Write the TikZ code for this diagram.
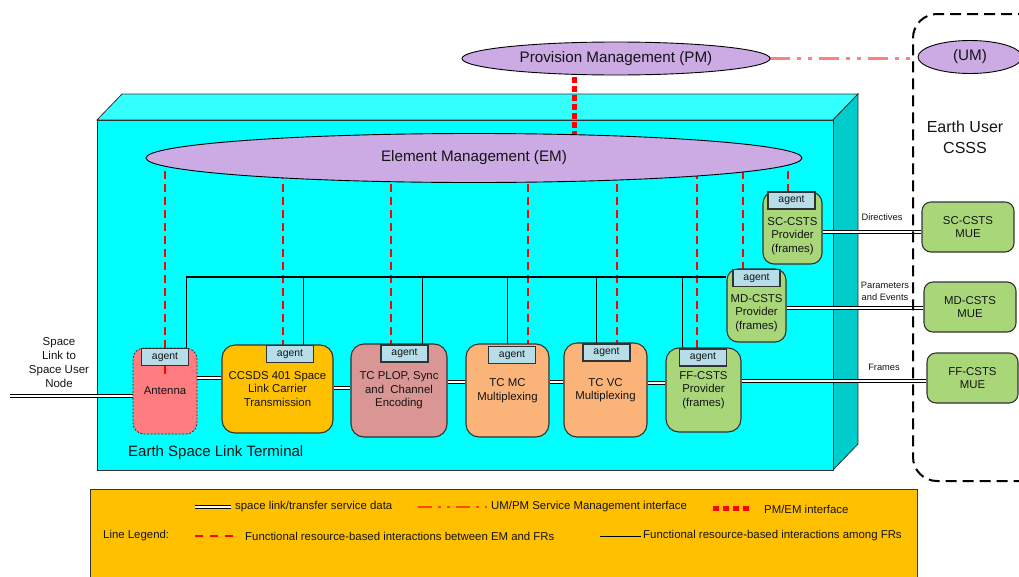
\documentclass[tikz,border=0pt]{standalone}
\usepackage{fontspec}
\setmainfont{Liberation Sans}
\usetikzlibrary{shapes.geometric}
\pgfdeclarelayer{bg}
\pgfdeclarelayer{ln}
\pgfsetlayers{bg,ln,main}
\definecolor{cyF}{RGB}{0,255,255}
\definecolor{cyT}{RGB}{51,255,255}
\definecolor{cyS}{RGB}{0,204,204}
\definecolor{lav}{RGB}{204,170,228}
\definecolor{antC}{RGB}{255,124,128}
\definecolor{ccC}{RGB}{255,192,0}
\definecolor{plopC}{RGB}{218,150,148}
\definecolor{peachC}{RGB}{250,180,122}
\definecolor{grnC}{RGB}{170,214,122}
\definecolor{agC}{RGB}{183,221,232}
\definecolor{legC}{RGB}{255,192,0}
\definecolor{salm}{RGB}{255,128,128}
\definecolor{umpmL}{RGB}{255,70,20}
\definecolor{frm}{RGB}{50,50,50}
\definecolor{txt}{RGB}{20,20,20}
\newcommand\myNodeFont{\fontsize{11.4}{13.5}\selectfont}
\newcommand\myLegFont{\fontsize{11.4}{13.5}\selectfont}
\tikzset{
  frbox/.style={draw=frm, line width=1.1pt, rounded corners=13pt, inner sep=0pt, align=center, font=\myNodeFont, text=txt},
  agentbox/.style={draw=frm, line width=1.1pt, fill=agC, minimum width=47pt, minimum height=17pt, inner sep=0pt, font=\fontsize{10.4}{12}\selectfont, text=txt},
  ell/.style={ellipse, draw=black, line width=0.9pt, fill=lav, inner sep=0pt, font=\fontsize{15.2}{18}\selectfont, text=txt},
  dbl/.style={draw=black, line width=1.4pt, double=white, double distance=1.7pt},
  fem/.style={draw=red, line width=1.7pt, dash pattern=on 8pt off 5pt},
  frl/.style={draw=black, line width=1pt},
  busl/.style={draw=black, line width=2pt},
  pmem/.style={draw=red, line width=5pt, dash pattern=on 6pt off 3pt},
  umpm/.style={draw=salm, line width=3.5pt, dash pattern=on 20pt off 7pt on 4pt off 7pt on 4pt off 7pt},
  lbl/.style={inner sep=0pt, align=center, text=txt},
  leg/.style={inner sep=0pt, anchor=west, font=\myLegFont, text=txt},
}
\begin{document}
\begin{tikzpicture}[x=1pt,y=-1pt]
\useasboundingbox (0,0) rectangle (1019,576);
\clip (0,0) rectangle (1019,576);

% ---------- background: cube and legend box
\begin{pgfonlayer}{bg}
  \filldraw[fill=cyT, draw=frm, line width=0.8pt] (97,120) -- (122,94) -- (858,94) -- (833,120) -- cycle;
  \filldraw[fill=cyS, draw=frm, line width=0.8pt] (833,120) -- (858,94) -- (858,444) -- (833,470) -- cycle;
  \filldraw[fill=cyF, draw=frm, line width=0.8pt] (97,120) rectangle (833,470);
  \filldraw[fill=legC, draw=frm, line width=0.8pt] (90,489) rectangle (917,600);
\end{pgfonlayer}

% ---------- ellipses
\node[ell, minimum width=308pt, minimum height=33pt] (PM) at (616,58.5) {Provision Management (PM)};
\node[ell, minimum width=656pt, minimum height=49pt] (EM) at (474,158) {Element Management (EM)};
\node[ell, minimum width=104pt, minimum height=33pt] (UM) at (970,57) {(UM)};

% ---------- user CSSS dashed box
\node[draw=black, line width=2pt, dash pattern=on 11pt off 6pt, rounded corners=24pt,
      minimum width=140pt, minimum height=467pt, inner sep=0pt] (CSSS) at (983,247.5) {};
\node[lbl, font=\fontsize{16}{21}\selectfont] (CSSSt) at (965,137) {Earth User\\CSSS};

% ---------- functional resources
\node[frbox, fill=antC, draw=frm, line width=0.8pt, dash pattern=on 2pt off 1.5pt, rounded corners=11pt,
      minimum width=64pt, minimum height=86pt] (Ant) at (165,391) {Antenna};
\node[frbox, fill=ccC, minimum width=111pt, minimum height=88pt] (CC) at (277.5,389) {CCSDS 401 Space\\Link Carrier\\Transmission};
\node[frbox, fill=plopC, minimum width=96pt, minimum height=93pt] (PLOP) at (399,390.5) {TC PLOP, Sync\\and~ Channel\\Encoding};
\node[frbox, fill=peachC, minimum width=83pt, minimum height=93pt] (MC) at (507.5,390.5) {TC MC\\Multiplexing};
\node[frbox, fill=peachC, minimum width=83pt, minimum height=94pt] (VC) at (605.5,390) {TC VC\\Multiplexing};
\node[frbox, fill=grnC, minimum width=75pt, minimum height=84pt] (FF) at (703.5,390) {FF-CSTS\\Provider\\(frames)};
\node[frbox, fill=grnC, rounded corners=11pt, minimum width=59pt, minimum height=73pt] (MD) at (756.5,305.5) {};
\node[lbl, font=\myNodeFont] (MDt) at (756.5,313) {MD-CSTS\\Provider\\(frames)};
\node[frbox, fill=grnC, rounded corners=11pt, minimum width=59pt, minimum height=72pt] (SC) at (792.5,228) {};
\node[lbl, font=\myNodeFont] (SCt) at (792.5,236) {SC-CSTS\\Provider\\(frames)};

% ---------- MUEs
\node[frbox, fill=grnC, rounded corners=9pt, minimum width=92pt, minimum height=50pt] (SCMUE) at (968,227) {SC-CSTS\\MUE};
\node[frbox, fill=grnC, rounded corners=9pt, minimum width=92pt, minimum height=50pt] (MDMUE) at (970,307) {MD-CSTS\\MUE};
\node[frbox, fill=grnC, rounded corners=9pt, minimum width=91pt, minimum height=50pt] (FFMUE) at (972.5,378) {FF-CSTS\\MUE};

% ---------- agents
\node[agentbox] (agAnt) at (165,357) {agent};
\node[agentbox] (agCC) at (290,354) {agent};
\node[agentbox] (agPLOP) at (404.5,353.5) {agent};
\node[agentbox] (agMC) at (512,355) {agent};
\node[agentbox] (agVC) at (606.5,352.5) {agent};
\node[agentbox] (agFF) at (703,357.5) {agent};
\node[agentbox] (agMD) at (756.5,278) {agent};
\node[agentbox] (agSC) at (791.5,200.5) {agent};

% ---------- labels
\node[lbl, anchor=west, font=\fontsize{15}{18}\selectfont] (ESLT) at (128,453) {Earth Space Link Terminal};
\node[lbl, font=\fontsize{11.5}{13.7}\selectfont] (SLt) at (59,362.5) {Space\\Link to\\Space User\\Node};
\node[lbl, font=\fontsize{9.3}{12}\selectfont] (dirT) at (882,217) {Directives};
\node[lbl, font=\fontsize{9.3}{12}\selectfont] (parT) at (885,291) {Parameters\\and Events};
\node[lbl, font=\fontsize{9.3}{12}\selectfont] (frT) at (884,367) {Frames};

% ---------- connectors
\coordinate (xAnt) at (165,0);
\coordinate (xCC) at (283,0);
\coordinate (xPLOP) at (391,0);
\coordinate (xMC) at (528,0);
\coordinate (xVC) at (617,0);
\coordinate (xFF) at (697,0);
\coordinate (xMD) at (743,0);
\coordinate (xSC) at (788,0);
\coordinate (xPE) at (574,0);
\coordinate (busL) at (186,277);
\coordinate (bCC) at (303,277);
\coordinate (bPLOP) at (422,277);
\coordinate (bMC) at (507,277);
\coordinate (bVC) at (596,277);
\coordinate (bFF) at (682,277);
\coordinate (slEnd) at (10,396);
\coordinate (y1) at (0,378);
\coordinate (y2) at (0,388);
\coordinate (y3) at (0,382);
\coordinate (y4) at (0,383);
\coordinate (y5) at (0,381);
\coordinate (yMD) at (0,308);
\coordinate (ySC) at (0,232);

\begin{pgfonlayer}{ln}
  \draw[pmem] (PM.center -| xPE) -- (EM.center -| xPE);
  \draw[umpm] (PM.east) -- (PM.east -| CSSS.west);
  \draw[fem] (EM.center -| xAnt) -- (agAnt.north -| xAnt);
  \draw[fem] (EM.center -| xCC) -- (agCC.north -| xCC);
  \draw[fem] (EM.center -| xPLOP) -- (agPLOP.north -| xPLOP);
  \draw[fem] (EM.center -| xMC) -- (agMC.north -| xMC);
  \draw[fem] (EM.center -| xVC) -- (agVC.north -| xVC);
  \draw[fem] (EM.center -| xFF) -- (agFF.north -| xFF);
  \draw[fem] (EM.center -| xMD) -- (agMD.north -| xMD);
  \draw[fem] (EM.center -| xSC) -- (agSC.north -| xSC);
  \draw[busl] (busL) -- (busL -| MD.west);
  \draw[frl] (busL) -- (busL |- agAnt.north);
  \draw[frl] (bCC) -- (bCC |- agCC.north);
  \draw[frl] (bPLOP) -- (bPLOP |- agPLOP.north);
  \draw[frl] (bMC) -- (bMC |- agMC.north);
  \draw[frl] (bVC) -- (bVC |- agVC.north);
  \draw[frl] (bFF) -- (bFF |- agFF.north);
  \draw[dbl] (slEnd) -- (slEnd -| Ant.west);
  \draw[dbl] (y1 -| Ant.east) -- (y1 -| CC.west);
  \draw[dbl] (y2 -| CC.east) -- (y2 -| PLOP.west);
  \draw[dbl] (y3 -| PLOP.east) -- (y3 -| MC.west);
  \draw[dbl] (y3 -| MC.east) -- (y3 -| VC.west);
  \draw[dbl] (y4 -| VC.east) -- (y4 -| FF.west);
  \draw[dbl] (y5 -| FF.east) -- (y5 -| FFMUE.west);
  \draw[dbl] (yMD -| MD.east) -- (yMD -| MDMUE.west);
  \draw[dbl] (ySC -| SC.east) -- (ySC -| SCMUE.west);
\end{pgfonlayer}
\draw[fem] (agAnt.south -| xAnt) -- ++(0,10);

% ---------- legend
\draw[dbl] (195,507) -- (231,507);
\node[leg] (lg1) at (235,507) {space link/transfer service data};
\draw[draw=umpmL, line width=2.5pt, dash pattern=on 14pt off 6pt on 3pt off 6pt on 3pt off 6pt] (418,507) -- (487,507);
\node[leg] (lg2) at (491,507) {UM/PM Service Management interface};
\draw[pmem, line width=5pt, dash pattern=on 6pt off 4pt] (713,508) -- (750,508);
\node[leg] (lg3) at (764,509) {PM/EM interface};
\node[leg] (lg0) at (103,536) {Line Legend:};
\draw[fem, dash pattern=on 8pt off 7pt] (195,536) -- (234,536);
\node[leg] (lg4) at (245,536) {Functional resource-based interactions between EM and FRs};
\draw[frl] (600,536) -- (641,536);
\node[leg] (lg5) at (643,536) {Functional resource-based interactions among FRs};
\end{tikzpicture}
\end{document}
